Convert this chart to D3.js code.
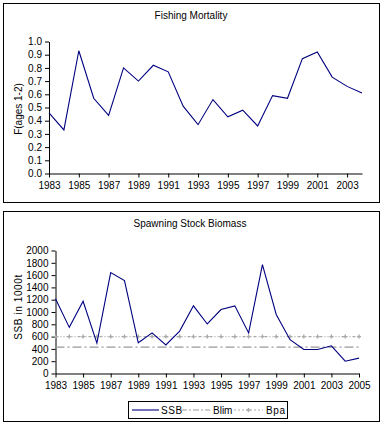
<!DOCTYPE html>
<html><head><meta charset="utf-8">
<script src="https://cdn.jsdelivr.net/npm/d3@7"></script>
<style>
body{margin:0;background:#fff;}
svg{display:block;font-family:"Liberation Sans",Arial,sans-serif;}
text{fill:#000;}
</style></head>
<body><svg id="c" width="383" height="430"></svg>
<script>
// ---- data ----
const fYears = [1983,1984,1985,1986,1987,1988,1989,1990,1991,1992,1993,1994,1995,1996,1997,1998,1999,2000,2001,2002,2003,2004];
const fValues = [0.46,0.33,0.93,0.57,0.44,0.80,0.70,0.82,0.77,0.51,0.37,0.56,0.43,0.48,0.36,0.59,0.57,0.87,0.92,0.73,0.66,0.61];
const fTicks = [0,0.1,0.2,0.3,0.4,0.5,0.6,0.7,0.8,0.9,1.0];
const ssbYears = [1983,1984,1985,1986,1987,1988,1989,1990,1991,1992,1993,1994,1995,1996,1997,1998,1999,2000,2001,2002,2003,2004,2005];
const ssbValues = [1215,750,1175,495,1640,1510,500,660,465,690,1100,805,1040,1100,660,1770,960,550,390,390,450,200,250];
const blim = 430;
const bpa = 600;
const ssbTicks = [0,200,400,600,800,1000,1200,1400,1600,1800,2000];
const xLabelYearsF = [1983,1985,1987,1989,1991,1993,1995,1997,1999,2001,2003];
const xLabelYearsS = [1983,1985,1987,1989,1991,1993,1995,1997,1999,2001,2003,2005];
const legendLabels = ["SSB","Blim","Bpa"];

const svg = d3.select("#c");
const navy = "#000080";

// frames
svg.append("rect").attr("x",3.5).attr("y",3.5).attr("width",376).attr("height",199).attr("fill","none").attr("stroke","#000");
svg.append("rect").attr("x",3.5).attr("y",211.5).attr("width",376).attr("height",210).attr("fill","none").attr("stroke","#000");

function styleAxis(g){
  g.selectAll("path.domain").attr("stroke","#000");
  g.selectAll(".tick line").attr("stroke","#000");
  g.selectAll("text").attr("font-size","10px").attr("font-family","'Liberation Sans',Arial,sans-serif").attr("fill","#000");
}

// ---- top chart ----
{
  const x = d3.scalePoint().domain(fYears).range([49, 362]);
  const y = d3.scaleLinear().domain([0,1]).range([173.5, 41.5]);
  const g = svg.append("g");
  const ya = g.append("g").attr("transform","translate(49,0)")
    .call(d3.axisLeft(y).tickValues(fTicks).tickFormat(d3.format(".1f")).tickSize(4).tickPadding(3).tickSizeOuter(0));
  styleAxis(ya);
  const xa = g.append("g").attr("transform","translate(0,173.5)")
    .call(d3.axisBottom(x).tickValues(xLabelYearsF).tickSize(4).tickPadding(4).tickSizeOuter(0));
  styleAxis(xa);
  g.append("path").datum(fValues.map((v,i)=>[fYears[i],v]))
    .attr("fill","none").attr("stroke",navy).attr("stroke-width",1.1)
    .attr("d", d3.line().x(d=>x(d[0])).y(d=>y(d[1])));
  g.append("text").attr("x",191).attr("y",19).attr("text-anchor","middle").attr("font-size","10px").text("Fishing Mortality");
  g.append("text").attr("transform","translate(22,109) rotate(-90)").attr("text-anchor","middle").attr("font-size","10px").text("F(ages 1-2)");
}

// ---- bottom chart ----
{
  const x = d3.scalePoint().domain(ssbYears).range([55.5, 359]);
  const y = d3.scaleLinear().domain([0,2000]).range([373.5, 250.5]);
  const g = svg.append("g");
  const ya = g.append("g").attr("transform","translate(55.5,0)")
    .call(d3.axisLeft(y).tickValues(ssbTicks).tickFormat(d3.format("d")).tickSize(4).tickPadding(3).tickSizeOuter(0));
  styleAxis(ya);
  const xa = g.append("g").attr("transform","translate(0,373.5)")
    .call(d3.axisBottom(x).tickValues(xLabelYearsS).tickSize(4).tickPadding(4).tickSizeOuter(0));
  styleAxis(xa);
  // reference lines
  const line = d3.line().x(d=>x(d[0])).y(d=>y(d[1]));
  g.append("path").datum(ssbYears.map(yr=>[yr,blim]))
    .attr("fill","none").attr("stroke","#999").attr("stroke-width",1.2).attr("stroke-dasharray","9,3,2,3")
    .attr("d", line);
  g.append("path").datum(ssbYears.map(yr=>[yr,bpa]))
    .attr("fill","none").attr("stroke","#aaa").attr("stroke-width",1.2).attr("stroke-dasharray","3,2,1,2,1,2")
    .attr("d", line);
  g.selectAll(".bpam").data(ssbYears).join("path").attr("class","bpam")
    .attr("transform",d=>`translate(${x(d)},${y(bpa)})`)
    .attr("d","M-2,0H2M0,-2V2").attr("stroke","#aaa").attr("stroke-width",1.4);
  g.append("path").datum(ssbValues.map((v,i)=>[ssbYears[i],v]))
    .attr("fill","none").attr("stroke",navy).attr("stroke-width",1.1)
    .attr("d", line);
  g.append("text").attr("x",190).attr("y",227).attr("text-anchor","middle").attr("font-size","10px").text("Spawning Stock Biomass");
  g.append("text").attr("transform","translate(22,307) rotate(-90)").attr("text-anchor","middle").attr("font-size","10px").attr("letter-spacing","0.6px").text("SSB in 1000t");

  // legend
  const lg = svg.append("g");
  lg.append("rect").attr("x",128.5).attr("y",401.5).attr("width",159).attr("height",17).attr("fill","#fff").attr("stroke","#000");
  const ly = 410;
  const items = [
    {x1:132,x2:159,tx:161,stroke:navy,dash:null,mark:false},
    {x1:181,x2:210,tx:213,stroke:"#999",dash:"6,2,2,2",mark:false},
    {x1:234,x2:263,tx:266,stroke:"#aaa",dash:"2,2",mark:true}
  ];
  items.forEach((it,i)=>{
    lg.append("line").attr("x1",it.x1).attr("x2",it.x2).attr("y1",ly).attr("y2",ly)
      .attr("stroke",it.stroke).attr("stroke-width",1.1).attr("stroke-dasharray",it.dash);
    if(it.mark) lg.append("path").attr("transform",`translate(${(it.x1+it.x2)/2},${ly})`).attr("d","M-2,0H2M0,-2V2").attr("stroke","#aaa").attr("stroke-width",1.4);
    lg.append("text").attr("x",it.tx).attr("y",ly+3.5).attr("font-size","10px").attr("letter-spacing",i===1?"0":"0.6px").text(legendLabels[i]);
  });
}
</script></body></html>
